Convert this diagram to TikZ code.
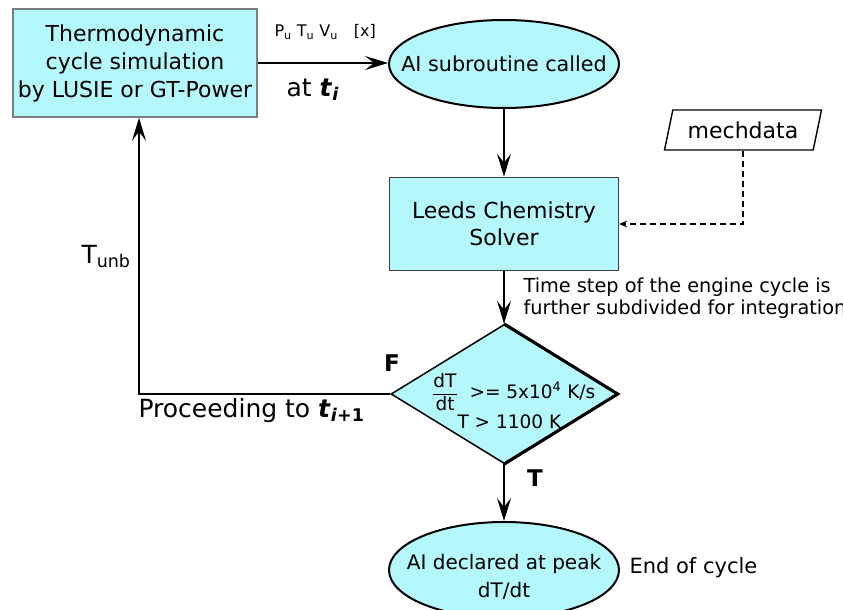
\documentclass[tikz,border=0pt]{standalone}
\usepackage{fontspec}
\setmainfont{DejaVu Sans}
\usetikzlibrary{shapes.geometric,arrows.meta}
\definecolor{cyanfill}{HTML}{B5F8FB}
\definecolor{simborder}{HTML}{7A8080}
\definecolor{solverborder}{HTML}{3C4040}
% font size with explicit baseline skip
\newcommand{\fs}[2]{\fontsize{#1}{#2}\selectfont}
\begin{document}
\begin{tikzpicture}[x=1pt,y=-1pt,
  txt/.style={align=center},
  box/.style={txt, line width=1.6pt, fill=cyanfill, inner sep=0pt},
  term/.style={ellipse, draw=black, line width=2pt, fill=cyanfill, inner sep=0pt},
  decision/.style={diamond, draw=black, line width=1.5pt, fill=cyanfill, inner sep=0pt},
  iodata/.style={trapezium, trapezium left angle=69, trapezium right angle=111,
    trapezium stretches=true, draw=black, line width=1.4pt, inner sep=0pt, font=\fs{22}{26}},
  flow/.style={line width=1.6pt, -{Stealth[length=23pt,width=14pt,inset=9pt]}},
  dataflow/.style={line width=1.4pt, dash pattern=on 6pt off 4pt,
    -{Stealth[length=8pt,width=7pt,inset=3pt]}},
  tag/.style={font=\bfseries\fs{23}{26}}
]
\useasboundingbox (0,0) rectangle (843,610);

% process blocks
\node[box, draw=simborder, font=\fs{22}{28}, minimum width=244pt, minimum height=108pt] (sim) at (135,63)
  {Thermodynamic\\cycle simulation\\by LUSIE or GT-Power};
\node[term, minimum width=230pt, minimum height=88pt] (ai) at (504,64) {};
\node[font=\fs{20.7}{26}] (aitext) at (ai.center) {AI subroutine called};
\node[box, draw=solverborder, font=\fs{22}{27}, minimum width=229pt, minimum height=93pt] (leeds) at (504,224)
  {Leeds Chemistry\\Solver};
\node[iodata, minimum width=157pt, minimum height=40pt] (mech) at (743,130) {mechdata};

% decision
\node[decision, minimum width=226pt, minimum height=139pt] (dec) at (504,394) {};
\draw[line width=3pt] (dec.north) -- (dec.east) -- (dec.south);
\node[font=\fs{18.5}{22}] (frac) at (445,392) {$\displaystyle\frac{\mbox{dT}}{\mbox{dt}}$};
\node[font=\fs{18.5}{22}, anchor=base west] (rate) at (466,398) {>= 5x10\textsuperscript{4} K/s};
\node[font=\fs{18.5}{22}, anchor=base west] (temp) at (454,428) {T > 1100 K};

% end block
\node[term, minimum width=230pt, minimum height=96pt] (peak) at (504,570) {};
\node[txt, font=\fs{20}{28}] (peaktext) at (504,577) {AI declared at peak\\dT/dt};

% connectors
\draw[flow] (sim.east) -- (sim.east -| ai.west);
\draw[flow] (ai.south) -- (leeds.north);
\draw[flow] (leeds.south) -- (dec.north);
\draw[flow] (dec.south) -- (peak.north);
\draw[flow] (dec.west) -| ([xshift=4pt]sim.south);
\draw[dataflow] (mech.south) |- (leeds.east);

% labels
\node[anchor=base west, font=\fs{16}{20}] (pin) at (271,37)
  {P\textsubscript{u} T\textsubscript{u} V\textsubscript{u}\quad[x]};
\node[anchor=base west, font=\fs{25}{28}] (ati) at (283,96)
  {at \textbf{\textit{t}\textsubscript{\textit{i}}}};
\node[anchor=west, align=left, font=\fs{19.3}{22}] (step) at (520,298)
  {Time step of the engine cycle is\\further subdivided for integration};
\node[tag] (flab) at (392,363) {F};
\node[tag] (tlab) at (535,478) {T};
\node[anchor=base west, font=\fs{25}{28}] (tunb) at (78,263) {T\textsubscript{unb}};
\node[anchor=base west, font=\fs{25}{28}] (next) at (135,417)
  {Proceeding to \textbf{\textit{t}\textsubscript{\textit{i}+1}}};
\node[anchor=base west, font=\fs{21}{24}] (eoc) at (626,573) {End of cycle};
\end{tikzpicture}
\end{document}
